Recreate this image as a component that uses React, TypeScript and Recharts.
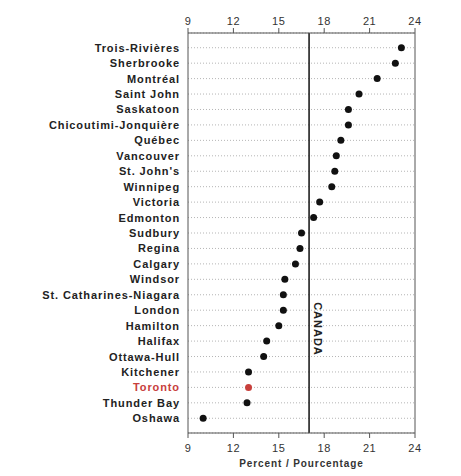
import React from "react";
import {
    ScatterChart,
    Scatter,
    XAxis,
    YAxis,
    CartesianGrid,
    ReferenceLine,
    Cell
} from "recharts";

const cities = [
    "Trois-Rivières",
    "Sherbrooke",
    "Montréal",
    "Saint John",
    "Saskatoon",
    "Chicoutimi-Jonquière",
    "Québec",
    "Vancouver",
    "St. John's",
    "Winnipeg",
    "Victoria",
    "Edmonton",
    "Sudbury",
    "Regina",
    "Calgary",
    "Windsor",
    "St. Catharines-Niagara",
    "London",
    "Hamilton",
    "Halifax",
    "Ottawa-Hull",
    "Kitchener",
    "Toronto",
    "Thunder Bay",
    "Oshawa"
];

const percents = [
    23.1, 22.7, 21.5, 20.3, 19.6, 19.6, 19.1, 18.8, 18.7, 18.5, 17.7, 17.3, 16.5,
    16.4, 16.1, 15.4, 15.3, 15.3, 15.0, 14.2, 14.0, 13.0, 13.0, 12.9, 10.0
];

const xTicks = [9, 12, 15, 18, 21, 24];
const canadaValue = 17;
const highlightCity = "Toronto";

const data = cities.map((city, i) => ({ city, value: percents[i] }));

const FONT = "'Liberation Sans', Arial, sans-serif";
const RED = "#c8403c";

const CityTick = (props: any) => {
    const { x, y, payload } = props;
    const isHi = payload.value === highlightCity;
    return (
        <text
            x={x}
            y={y}
            dy={4}
            textAnchor="end"
            fontFamily={FONT}
            fontSize={11}
            fontWeight="bold"
            letterSpacing={0.9}
            fill={isHi ? RED : "#222"}
        >
            {payload.value}
        </text>
    );
};

const CanadaLabel = (props: any) => {
    const { viewBox } = props;
    const x = viewBox.x + 9;
    const y = viewBox.y + viewBox.height * 0.74;
    return (
        <text
            x={x}
            y={y}
            transform={`rotate(90 ${x} ${y})`}
            textAnchor="middle"
            dominantBaseline="central"
            fontFamily={FONT}
            fontSize={11}
            fontWeight="bold"
            letterSpacing={1}
            fill="#222"
        >
            CANADA
        </text>
    );
};

export default function App() {
    const tickStyle = { fontFamily: FONT, fontSize: 11, fill: "#333", letterSpacing: 0.6 };
    return (
        <div style={{ position: "absolute", left: 0, top: 0, background: "#fff" }}>
            <ScatterChart
                width={461}
                height={476}
                margin={{ top: 10, right: 46, bottom: 3, left: 0 }}
            >
                <CartesianGrid
                    xAxisId="bottom"
                    vertical={false}
                    stroke="#b5b5b5"
                    strokeDasharray="1 2"
                />
                <XAxis
                    xAxisId="top"
                    orientation="top"
                    type="number"
                    dataKey="value"
                    domain={[9, 24]}
                    ticks={xTicks}
                    height={23}
                    tickSize={5}
                    tickMargin={3}
                    stroke="#555"
                    tick={tickStyle}
                />
                <XAxis
                    xAxisId="bottom"
                    orientation="bottom"
                    type="number"
                    dataKey="value"
                    domain={[9, 24]}
                    ticks={xTicks}
                    height={40}
                    tickSize={5}
                    tickMargin={6}
                    stroke="#555"
                    tick={tickStyle}
                    label={{
                        value: "Percent / Pourcentage",
                        position: "insideBottom",
                        offset: 6,
                        style: {
                            fontFamily: FONT,
                            fontSize: 10,
                            fontWeight: "bold",
                            letterSpacing: 0.9,
                            fill: "#333"
                        }
                    }}
                />
                <YAxis
                    type="category"
                    dataKey="city"
                    width={188}
                    reversed
                    interval={0}
                    tickLine={false}
                    stroke="#555"
                    padding={{ top: 7, bottom: 7 }}
                    tick={<CityTick />}
                />
                <ReferenceLine xAxisId="bottom" x={24} stroke="#555" />
                <ReferenceLine
                    xAxisId="bottom"
                    x={canadaValue}
                    stroke="#111"
                    strokeWidth={1.5}
                    label={<CanadaLabel />}
                />
                {/* invisible copy so the top axis gets drawn */}
                <Scatter
                    xAxisId="top"
                    data={data}
                    fill="none"
                    isAnimationActive={false}
                    shape={() => <g />}
                />
                <Scatter
                    xAxisId="bottom"
                    data={data}
                    fill="#111"
                    isAnimationActive={false}
                    shape={(p: any) => <circle cx={p.cx} cy={p.cy} r={3.5} fill={p.fill} />}
                >
                    {data.map((d) => (
                        <Cell key={d.city} fill={d.city === highlightCity ? RED : "#111"} />
                    ))}
                </Scatter>
            </ScatterChart>
        </div>
    );
}
